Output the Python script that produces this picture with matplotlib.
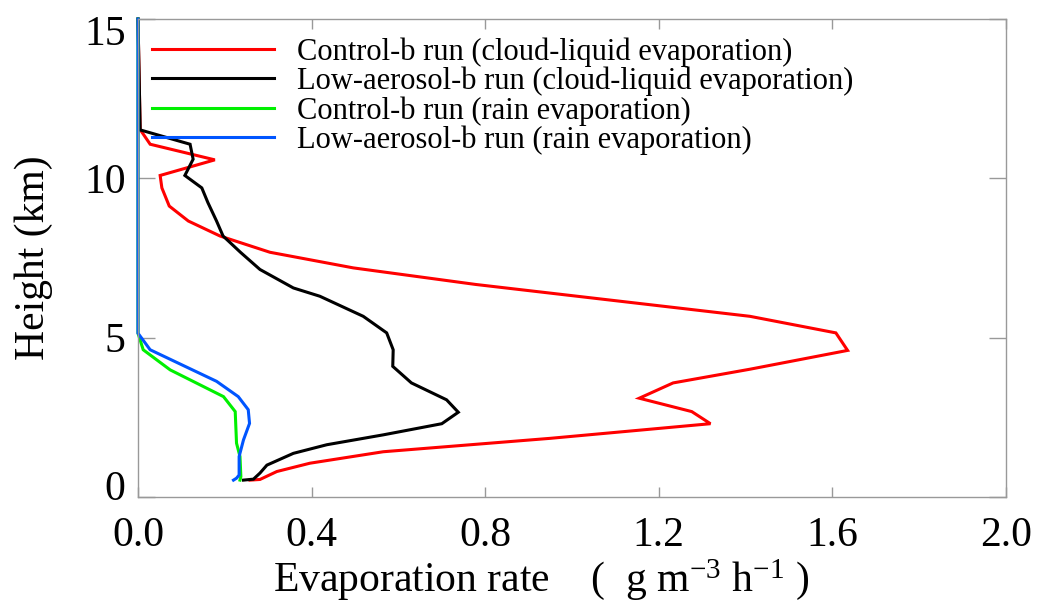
import matplotlib
matplotlib.use("Agg")
import matplotlib.pyplot as plt
import matplotlib.transforms as mtrans

plt.rcParams['font.family'] = ['Liberation Serif', 'DejaVu Serif']
plt.rcParams['mathtext.fontset'] = 'custom'
plt.rcParams['mathtext.rm'] = 'Liberation Serif'
plt.rcParams['mathtext.it'] = 'Liberation Serif'

# Control-b run, cloud-liquid evaporation (rate, height)
ctrl_cl_rate = [0.258, 0.281, 0.320, 0.396, 0.565, 0.949, 1.319, 1.276, 1.155, 1.233, 1.410,
                1.635, 1.608, 1.410, 1.094, 0.778, 0.496, 0.304, 0.189, 0.116, 0.072, 0.055,
                0.051, 0.177, 0.028, 0.005, 0.0]
ctrl_cl_hgt = [0.53, 0.55, 0.80, 1.06, 1.42, 1.84, 2.30, 2.68, 3.10, 3.58, 4.01,
               4.60, 5.15, 5.67, 6.17, 6.67, 7.19, 7.68, 8.19, 8.66, 9.13, 9.70,
               10.09, 10.58, 11.07, 11.53, 15.0]

# Low-aerosol-b run, cloud-liquid evaporation
low_cl_rate = [0.243, 0.266, 0.281, 0.297, 0.358, 0.435, 0.565, 0.700, 0.738, 0.711, 0.630,
               0.587, 0.588, 0.573, 0.519, 0.419, 0.358, 0.281, 0.236, 0.196, 0.181, 0.161,
               0.147, 0.108, 0.127, 0.120, 0.005, 0.0]
low_cl_hgt = [0.53, 0.56, 0.75, 1.00, 1.37, 1.64, 1.95, 2.30, 2.66, 3.05, 3.58,
              4.10, 4.62, 5.15, 5.67, 6.30, 6.56, 7.14, 7.68, 8.19, 8.66, 9.24,
              9.70, 10.09, 10.60, 11.07, 11.52, 15.0]

# Control-b run, rain evaporation
ctrl_rain_rate = [0.235, 0.237, 0.235, 0.227, 0.224, 0.197, 0.074, 0.012, 0.0, 0.0]
ctrl_rain_hgt = [0.53, 0.64, 1.27, 1.69, 2.68, 3.15, 3.99, 4.62, 5.14, 15.0]

# Low-aerosol-b run, rain evaporation
low_rain_rate = [0.220, 0.227, 0.233, 0.233, 0.243, 0.257, 0.254, 0.231, 0.181, 0.028, 0.0, 0.0]
low_rain_hgt = [0.53, 0.59, 0.69, 1.27, 1.79, 2.31, 2.74, 3.15, 3.63, 4.62, 5.14, 15.0]

labels = ['Control-b run (cloud-liquid evaporation)',
          'Low-aerosol-b run (cloud-liquid evaporation)',
          'Control-b run (rain evaporation)',
          'Low-aerosol-b run (rain evaporation)']
colors = ['#ff0000', '#000000', '#00f000', '#0055ff']

xticks = [0.0, 0.4, 0.8, 1.2, 1.6, 2.0]
yticks = [0, 5, 10, 15]

W, H = 1041, 603
fig = plt.figure(figsize=(W / 100, H / 100), dpi=100)
ax = fig.add_axes([138 / W, 1 - 497 / H, 868 / W, 478 / H])

series = [(ctrl_cl_rate, ctrl_cl_hgt), (low_cl_rate, low_cl_hgt),
          (ctrl_rain_rate, ctrl_rain_hgt), (low_rain_rate, low_rain_hgt)]
for (x, y), c, lab in zip(series, colors, labels):
    ax.plot(x, y, color=c, lw=2.2, label=lab, clip_on=False, solid_joinstyle='miter')

ax.set_xlim(0, 2.0)
ax.set_ylim(0, 15)
ax.set_xticks(xticks)
ax.set_xticklabels([f'{v:.1f}' for v in xticks])
ax.set_yticks(yticks)
ax.set_yticklabels([str(v) for v in yticks])

for s in ax.spines.values():
    s.set_color('#999999')
    s.set_linewidth(1.0)

ax.tick_params(axis='both', direction='in', top=True, right=True, color='#999999',
               width=1.0, labelsize=30)
ax.tick_params(axis='x', length=7.5, pad=14)
ax.tick_params(axis='y', length=12.5, pad=9)

# end labels on the y axis are pushed inside the axis range (offsets in pixels)
yt = ax.yaxis.get_major_ticks()
lab0 = yt[0].label1
lab0.set_transform(lab0.get_transform() + mtrans.ScaledTranslation(0, 12 / 100, fig.dpi_scale_trans))
labN = yt[-1].label1
labN.set_transform(labN.get_transform() + mtrans.ScaledTranslation(0, -11 / 100, fig.dpi_scale_trans))

ax.set_xlabel(r'Evaporation rate    (  g m$^{\mathrm{-3}}$ h$^{\mathrm{-1}}$ )', fontsize=30)
ax.xaxis.set_label_coords(0.464, -0.125)
ax.set_ylabel('Height (km)', fontsize=30)
ax.yaxis.set_label_coords(-0.098, 0.5)

ax.legend(loc='upper left', bbox_to_anchor=(0.016, 0.962), frameon=False, fontsize=22,
          handlelength=4.0, handletextpad=0.75, labelspacing=0.0, borderpad=0,
          borderaxespad=0)

fig.savefig('out.png', dpi=100)
